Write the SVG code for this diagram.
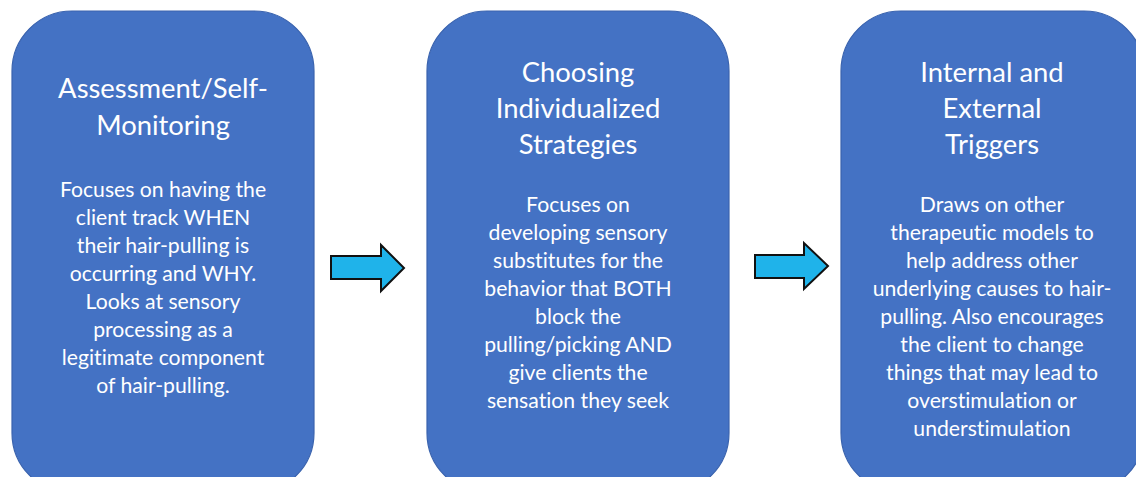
<svg xmlns="http://www.w3.org/2000/svg" width="1136" height="477" viewBox="0 0 1136 477">
  <style>
    .box { fill: #4472C4; stroke: #3A63AE; stroke-width: 1.2; }
    .title { font-family: Lato, "Open Sans", sans-serif; font-size: 27.4px; fill: #FFFFFF; text-anchor: middle; font-variant-ligatures: none; }
    .body { font-family: Lato, "Open Sans", sans-serif; font-size: 21.2px; fill: #FFFFFF; text-anchor: middle; font-variant-ligatures: none; }
    .arrow { fill: #1FB3EA; stroke: #111111; stroke-width: 2; stroke-linejoin: miter; }
  </style>
  <rect width="1136" height="477" fill="#FFFFFF"/>

  <!-- Step 1 -->
  <g id="assessment">
    <rect class="box" x="12" y="11" width="302" height="482" rx="60" ry="60"/>
    <text class="title" x="163" y="98">Assessment/Self-</text>
    <text class="title" x="163" y="135">Monitoring</text>
    <text class="body" x="163" y="197">Focuses on having the</text>
    <text class="body" x="163" y="225">client track WHEN</text>
    <text class="body" x="163" y="253">their hair-pulling is</text>
    <text class="body" x="163" y="281">occurring and WHY.</text>
    <text class="body" x="163" y="309">Looks at sensory</text>
    <text class="body" x="163" y="337">processing as a</text>
    <text class="body" x="163" y="365">legitimate component</text>
    <text class="body" x="163" y="393">of hair-pulling.</text>
  </g>

  <!-- Step 2 -->
  <g id="strategies">
    <rect class="box" x="427" y="11" width="302" height="482" rx="60" ry="60"/>
    <text class="title" x="578" y="82">Choosing</text>
    <text class="title" x="578" y="118">Individualized</text>
    <text class="title" x="578" y="154">Strategies</text>
    <text class="body" x="578" y="212">Focuses on</text>
    <text class="body" x="578" y="240">developing sensory</text>
    <text class="body" x="578" y="268">substitutes for the</text>
    <text class="body" x="578" y="296">behavior that BOTH</text>
    <text class="body" x="578" y="324">block the</text>
    <text class="body" x="578" y="352">pulling/picking AND</text>
    <text class="body" x="578" y="380">give clients the</text>
    <text class="body" x="578" y="408">sensation they seek</text>
  </g>

  <!-- Step 3 -->
  <g id="triggers">
    <rect class="box" x="841" y="11" width="303" height="482" rx="60" ry="60"/>
    <text class="title" x="992" y="82">Internal and</text>
    <text class="title" x="992" y="118">External</text>
    <text class="title" x="992" y="154">Triggers</text>
    <text class="body" x="992" y="212">Draws on other</text>
    <text class="body" x="992" y="240">therapeutic models to</text>
    <text class="body" x="992" y="268">help address other</text>
    <text class="body" x="992" y="296">underlying causes to hair-</text>
    <text class="body" x="992" y="324">pulling. Also encourages</text>
    <text class="body" x="992" y="352">the client to change</text>
    <text class="body" x="992" y="380">things that may lead to</text>
    <text class="body" x="992" y="408">overstimulation or</text>
    <text class="body" x="992" y="436">understimulation</text>
  </g>

  <!-- Connectors: block arrows between steps -->
  <g id="connectors">
    <path class="arrow" d="M331,256 H381 V245 L404,268 L381,291 V279 H331 Z"/>
    <path class="arrow" d="M755,255 H804 V243 L828,266 L804,289 V278 H755 Z"/>
  </g>
</svg>
